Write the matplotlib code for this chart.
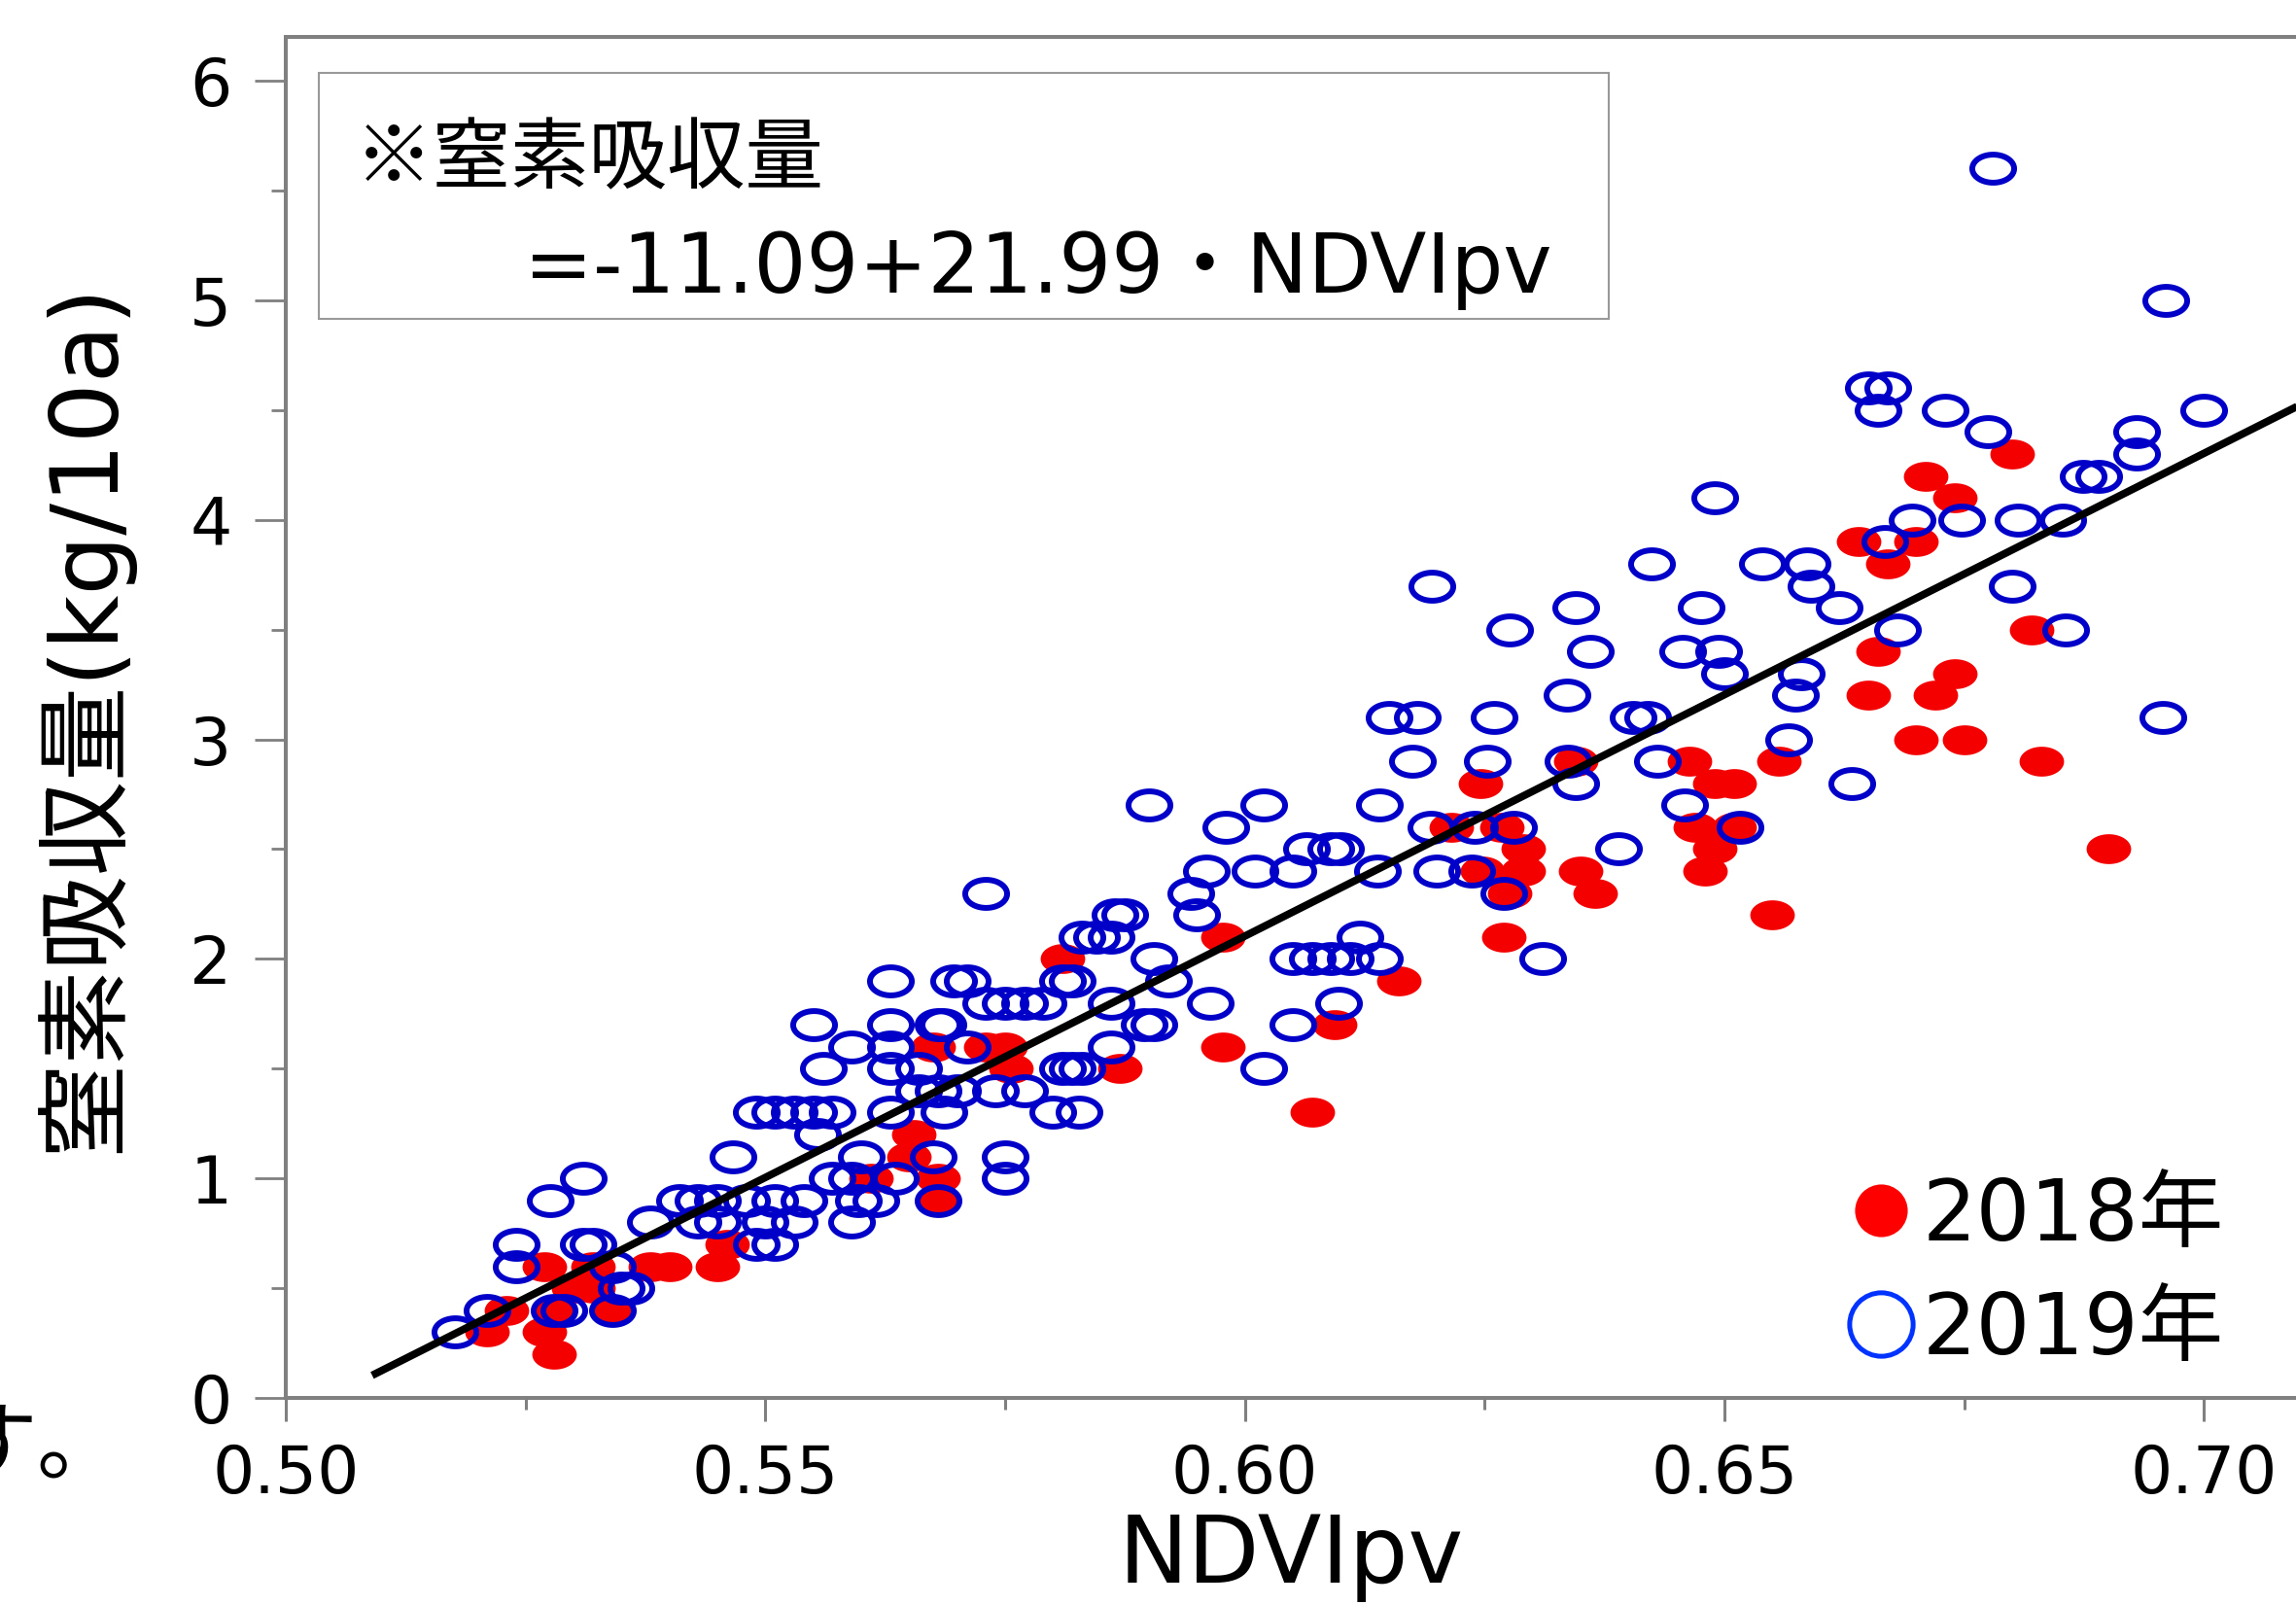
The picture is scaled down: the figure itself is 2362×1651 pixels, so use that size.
import numpy as np
import matplotlib
matplotlib.use("Agg")
import matplotlib.pyplot as plt
from matplotlib.path import Path
from matplotlib.lines import Line2D
from matplotlib.patches import Rectangle
from matplotlib.ticker import MultipleLocator, FormatStrFormatter

plt.rcParams['font.family'] = ['DejaVu Sans', 'Noto Sans CJK JP']

# 2018 (red, filled)
x2018 = [0.680, 0.671, 0.674, 0.664, 0.670, 0.667, 0.682, 0.666, 0.674, 0.665,
         0.672, 0.670, 0.675, 0.683, 0.690,
         0.6345, 0.6464, 0.6557, 0.6246, 0.649, 0.651, 0.6215, 0.6268, 0.647, 0.651,
         0.629, 0.649, 0.6248, 0.629, 0.635, 0.648, 0.6276, 0.6365, 0.655, 0.627,
         0.5977, 0.616, 0.6094, 0.5977, 0.607,
         0.581, 0.5675, 0.573, 0.575, 0.5756, 0.587,
         0.5655, 0.565, 0.561, 0.568, 0.568,
         0.546, 0.538, 0.540, 0.545, 0.527, 0.532, 0.530, 0.532,
         0.523, 0.528, 0.534, 0.521, 0.527, 0.528]
y2018 = [4.3, 4.2, 4.1, 3.9, 3.9, 3.8, 3.5, 3.4, 3.3, 3.2,
         3.2, 3.0, 3.0, 2.9, 2.5,
         2.9, 2.9, 2.9, 2.8, 2.8, 2.8, 2.6, 2.6, 2.6, 2.6,
         2.5, 2.5, 2.4, 2.4, 2.4, 2.4, 2.3, 2.3, 2.2, 2.1,
         2.1, 1.9, 1.7, 1.6, 1.3,
         2.0, 1.6, 1.6, 1.6, 1.5, 1.5,
         1.2, 1.1, 1.0, 1.0, 0.9,
         0.7, 0.6, 0.6, 0.6, 0.6, 0.6, 0.5, 0.5,
         0.4, 0.4, 0.4, 0.3, 0.3, 0.2]

# 2019 (blue, open) grouped by row value
rows2019 = {
    5.6: [0.678],
    5.0: [0.696],
    4.6: [0.665, 0.667],
    4.5: [0.666, 0.673, 0.700],
    4.4: [0.6775, 0.693],
    4.3: [0.693],
    4.2: [0.6874, 0.689],
    4.1: [0.649],
    4.0: [0.6696, 0.6747, 0.6806, 0.6853],
    3.9: [0.6667],
    3.8: [0.6424, 0.654, 0.6586],
    3.7: [0.6195, 0.659, 0.680],
    3.6: [0.6345, 0.6476, 0.662],
    3.5: [0.6276, 0.668, 0.6856],
    3.4: [0.636, 0.6456, 0.6494],
    3.3: [0.650, 0.658],
    3.2: [0.6336, 0.6574],
    3.1: [0.615, 0.618, 0.626, 0.6405, 0.642, 0.6957],
    3.0: [0.6567],
    2.9: [0.6175, 0.6253, 0.6337, 0.643],
    2.8: [0.6345, 0.6633],
    2.7: [0.590, 0.602, 0.614, 0.6458],
    2.6: [0.598, 0.6194, 0.624, 0.628, 0.6516],
    2.5: [0.6064, 0.609, 0.610, 0.639],
    2.4: [0.596, 0.601, 0.605, 0.6138, 0.620, 0.6236],
    2.3: [0.573, 0.5944, 0.627],
    2.2: [0.5865, 0.5875, 0.595],
    2.1: [0.583, 0.5845, 0.586, 0.612],
    2.0: [0.5905, 0.605, 0.607, 0.609, 0.611, 0.614, 0.631],
    1.9: [0.563, 0.5696, 0.571, 0.581, 0.582, 0.592],
    1.8: [0.573, 0.575, 0.577, 0.579, 0.586, 0.5964, 0.6098],
    1.7: [0.555, 0.563, 0.568, 0.5685, 0.5895, 0.5905, 0.605],
    1.6: [0.559, 0.563, 0.571, 0.586],
    1.5: [0.556, 0.563, 0.566, 0.581, 0.582, 0.583, 0.602],
    1.4: [0.566, 0.568, 0.570, 0.574, 0.577],
    1.3: [0.549, 0.551, 0.553, 0.555, 0.557, 0.563, 0.5686, 0.580, 0.5827],
    1.2: [0.5554],
    1.1: [0.5466, 0.560, 0.5675, 0.575],
    1.0: [0.531, 0.557, 0.559, 0.5635, 0.575],
    0.9: [0.5276, 0.541, 0.543, 0.545, 0.548, 0.551, 0.554, 0.5597, 0.5615, 0.568],
    0.8: [0.538, 0.543, 0.545, 0.550, 0.553, 0.559],
    0.7: [0.524, 0.531, 0.532, 0.549, 0.551],
    0.6: [0.524, 0.534],
    0.5: [0.535, 0.536],
    0.4: [0.521, 0.528, 0.529, 0.534],
    0.3: [0.5176],
}
x2019 = [x for y, xs in rows2019.items() for x in xs]
y2019 = [y for y, xs in rows2019.items() for x in xs]

# regression: N uptake = -11.09 + 21.99 * NDVIpv
intercept, slope = -11.09, 21.99
line_x = [0.509, 0.712]

fig = plt.figure(figsize=(23.62, 16.51), dpi=100)
ax = fig.add_axes([0.1245, 0.129, 0.8755, 0.848])

# elliptical marker (the source chart is horizontally stretched)
t = np.linspace(0, 2 * np.pi, 73)
ell = Path(np.c_[np.cos(t), 0.67 * np.sin(t)], closed=True)

ax.plot(x2018, y2018, ls='', marker=ell, markersize=33, color='#f50000',
        markeredgewidth=0, zorder=2)
ax.plot(x2019, y2019, ls='', marker=ell, markersize=31, markerfacecolor='none',
        markeredgecolor='#0000c8', markeredgewidth=4.3, zorder=3)
lx = np.array(line_x)
ax.plot(lx, intercept + slope * lx, color='black', lw=5.6, zorder=4,
        solid_capstyle='butt')

ax.set_xlim(0.5, 0.7096)
ax.set_ylim(0, 6.2)
ax.xaxis.set_major_locator(MultipleLocator(0.05))
ax.xaxis.set_minor_locator(MultipleLocator(0.025))
ax.xaxis.set_major_formatter(FormatStrFormatter('%.2f'))
ax.yaxis.set_major_locator(MultipleLocator(1))
ax.yaxis.set_minor_locator(MultipleLocator(0.5))

gray = '#808080'
for side in ['left', 'bottom', 'top']:
    ax.spines[side].set_color(gray)
    ax.spines[side].set_linewidth(2.9)
ax.spines['right'].set_visible(False)
ax.tick_params(axis='x', which='major', length=17, width=2.2, color=gray,
               labelsize=49, pad=16, direction='out')
ax.tick_params(axis='x', which='minor', length=8.5, width=2.2, color=gray, direction='out')
ax.tick_params(axis='y', which='major', length=23, width=2.0, color=gray,
               labelsize=49, pad=17, direction='out')
ax.tick_params(axis='y', which='minor', length=11, width=2.0, color=gray, direction='out')

ax.set_xlabel('NDVIpv', fontsize=69)
ax.xaxis.set_label_coords(0.5, -0.0836)
ax.set_ylabel('窒素吸収量(kg/10a)', fontsize=70)
ax.yaxis.set_label_coords(-0.0765, 0.5)

# equation box
ax.add_patch(Rectangle((0.0164, 0.7927), 0.6416, 0.1807, transform=ax.transAxes,
                       fill=False, edgecolor='#999999', lw=1.5, zorder=5))
ax.text(0.034, 0.8927, '※窒素吸収量', transform=ax.transAxes, fontsize=58,
        va='baseline', ha='left', family=['Noto Sans CJK JP', 'DejaVu Sans'])
ax.text(0.1185, 0.812, '=-11.09+21.99・NDVIpv', transform=ax.transAxes, fontsize=61,
        va='baseline', ha='left')

handles = [
    Line2D([], [], ls='', marker='o', markersize=39, color='#ff0000', markeredgewidth=0),
    Line2D([], [], ls='', marker='o', markersize=47, markerfacecolor='none',
           markeredgecolor='#0033ff', markeredgewidth=3.6),
]
ax.legend(handles, ['2018年', '2019年'], loc='upper right',
          bbox_to_anchor=(0.964, 0.163), frameon=False, fontsize=63,
          handlelength=0.6, handletextpad=0.18, labelspacing=0.38,
          borderpad=0, borderaxespad=0)

# fragment of cropped text at the left edge
fig.text(-0.0216, 0.0824, 'す。', fontsize=64, va='baseline', ha='left',
         family=['Noto Sans CJK JP'])

fig.savefig('out.png', dpi=100)
